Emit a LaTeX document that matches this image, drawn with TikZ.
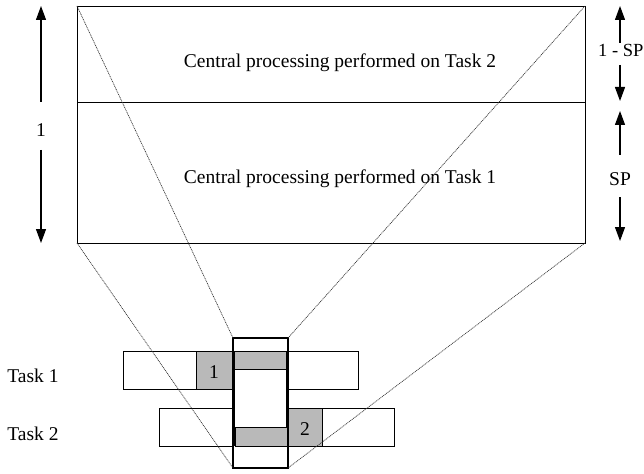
\documentclass[tikz,border=0pt]{standalone}
\usepackage{fontspec}
\setmainfont{Liberation Serif}
\usetikzlibrary{arrows.meta}
\definecolor{shade}{RGB}{185,185,185}
\begin{document}
\begin{tikzpicture}[x=1pt,y=-1pt,
  thin box/.style={draw=black,line width=0.9pt},
  shaded/.style={thin box,fill=shade},
  window/.style={draw=black,line width=1.8pt},
  proj/.style={draw=black!80,line width=0.7pt,dash pattern=on 1pt off 0.8pt},
  arr/.style={line width=1.2pt,-{Triangle[length=14pt,width=10pt]}},
  txt/.style={inner sep=0pt,anchor=base,font=\fontsize{19.5}{22}\selectfont}]
\useasboundingbox (0,0) rectangle (644,473);

% central processing blocks
\draw[thin box] (77,6) rectangle (585,102);
\draw[thin box] (77,102) rectangle (585,243);
\coordinate (tl) at (77,6);
\coordinate (tr) at (585,6);
\coordinate (bl) at (77,243);
\coordinate (br) at (585,243);
\node[txt] (c2) at (340,68) {Central processing performed on Task 2};
\node[txt] (c1) at (340,183) {Central processing performed on Task 1};

% task bars
\draw[thin box,fill=white] (123,351) rectangle (358,389);
\draw[shaded] (196,351) rectangle (233,389);
\draw[thin box,fill=white] (159,408) rectangle (394,446);
\draw[shaded] (288,408) rectangle (322,446);
\node[txt] (n1) at (214,378) {1};
\node[txt] (n2) at (305,435) {2};
\node[txt] (t1) at (33,382) {Task 1};
\node[txt] (t2) at (33,440) {Task 2};

% window over both tasks
\fill[white] (233,338) rectangle (288,468);
\draw[shaded] (234,351) rectangle (286,369);
\draw[shaded] (235,427) rectangle (288,446);
\draw[line width=1.3pt] (234.6,369) -- (234.6,446);
\draw[line width=1.3pt] (286.4,351) -- (286.4,427);
\draw[window] (233,338) rectangle (288,468);
\coordinate (wtl) at (233,338);
\coordinate (wtr) at (288,338);
\coordinate (wbl) at (233,468);
\coordinate (wbr) at (288,468);

% projection lines
\draw[proj] (tl) -- (wtl);
\draw[proj] (bl) -- (wbl);
\draw[proj] (tr) -- (wtr);
\draw[proj] (br) -- (wbr);

% left dimension arrow
\node[txt] (one) at (41,137) {1};
\coordinate (oneA) at (41,102);
\coordinate (oneB) at (41,150);
\coordinate (oneTop) at (41,6);
\coordinate (oneBot) at (41,243);
\draw[arr] (oneA) -- (oneTop);
\draw[arr] (oneB) -- (oneBot);

% right dimension arrows
\node[txt,anchor=base west,font=\fontsize{18.5}{22}\selectfont] (msp) at (598,57) {1 - SP};
\node[txt] (sp) at (620,185) {SP};
\coordinate (r1A) at (620,43);
\coordinate (r1B) at (620,65);
\coordinate (r1Top) at (620,6);
\coordinate (r1Bot) at (620,101);
\coordinate (r2A) at (620,155);
\coordinate (r2B) at (620,197);
\coordinate (r2Top) at (620,111);
\coordinate (r2Bot) at (620,241);
\draw[arr] (r1A) -- (r1Top);
\draw[arr] (r1B) -- (r1Bot);
\draw[arr] (r2A) -- (r2Top);
\draw[arr] (r2B) -- (r2Bot);
\end{tikzpicture}
\end{document}
